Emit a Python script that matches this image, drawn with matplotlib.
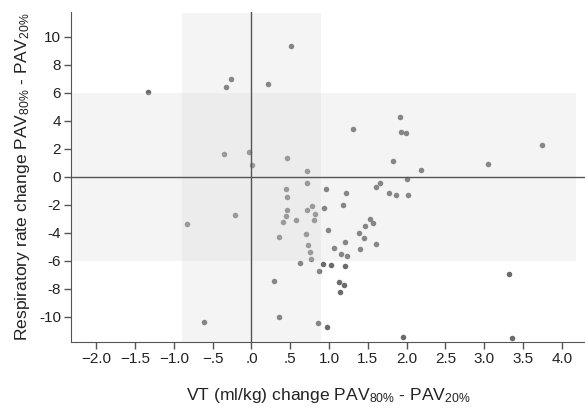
import numpy as np
import matplotlib
matplotlib.use("Agg")
import matplotlib.pyplot as plt

# VT change vs respiratory rate change (PAV 80% - PAV 20%)
vt_change = [
    -1.33, -0.33, -0.27, 0.215, 0.51, -0.36, -0.03, 0.005, 0.46, 0.71,
    1.91, 1.31, 1.93, 1.99, 3.75, 1.82, 3.05, 2.18, 2.00, 0.71,
    0.44, 0.96, 1.22, 0.46, 0.78, 0.72, 0.456, 0.93, 1.18, 0.825,
    -0.21, 0.45, 0.576, 0.81, 0.40, -0.83, 0.70, 0.36, 0.99, 1.20,
    1.066, 0.727, 0.76, 1.15, 1.23, 0.765, 0.62, 0.92, 1.03, 1.20,
    0.87, 0.29, 1.126, 1.19, 1.14, 0.35, -0.61, 0.86, 0.97, 1.61,
    1.66, 1.77, 1.86, 2.02, 1.53, 1.57, 1.465, 1.38, 1.45, 1.60,
    1.40, 3.32, 1.95, 3.36,
]
rr_change = [
    6.05, 6.39, 7.00, 6.60, 9.31, 1.60, 1.79, 0.84, 1.31, 0.41,
    4.29, 3.41, 3.21, 3.10, 2.26, 1.12, 0.91, 0.48, -0.18, -0.48,
    -0.90, -0.88, -1.14, -1.43, -2.07, -2.38, -2.38, -2.21, -2.02, -2.64,
    -2.74, -2.81, -3.07, -3.12, -3.26, -3.40, -4.12, -4.29, -3.81, -4.66,
    -5.07, -4.90, -5.36, -5.52, -5.66, -5.88, -6.19, -6.24, -6.31, -6.36,
    -6.76, -7.45, -7.50, -7.71, -8.21, -10.02, -10.38, -10.43, -10.71, -0.71,
    -0.48, -1.14, -1.31, -1.33, -3.05, -3.33, -3.50, -4.02, -4.38, -4.78,
    -5.19, -6.93, -11.47, -11.52,
]

x_ticks = [-2.0, -1.5, -1.0, -0.5, 0.0, 0.5, 1.0, 1.5, 2.0, 2.5, 3.0, 3.5, 4.0]
x_tick_labels = ["\u22122.0", "\u22121.5", "\u22121.0", "\u2212.5", ".0", ".5",
                 "1.0", "1.5", "2.0", "2.5", "3.0", "3.5", "4.0"]
y_ticks = [-10, -8, -6, -4, -2, 0, 2, 4, 6, 8, 10]
y_tick_labels = ["-10", "-8", "-6", "-4", "-2", "0", "2", "4", "6", "8", "10"]

# reference regions
vt_band = (-0.9, 0.9)
rr_band = (-6, 6)

plt.rcParams["font.family"] = ["Liberation Sans", "DejaVu Sans"]
plt.rcParams["mathtext.default"] = "regular"

fig = plt.figure(figsize=(5.85, 4.12), dpi=100)
ax = fig.add_axes([0.121, 0.169, 0.879, 0.803])

xlim = (-2.33, 4.30)
ylim = (-11.83, 11.8)

ax.scatter(vt_change, rr_change, s=16, color="#6b6b6b", linewidths=0, zorder=2)

# translucent bands drawn over the points (lightens the points underneath)
band_kw = dict(color="#d6d6d6", alpha=0.26, linewidth=0, zorder=3)
ax.fill_between([xlim[0], 4.19], rr_band[0], rr_band[1], **band_kw)
ax.fill_betweenx([ylim[0], 11.71], vt_band[0], vt_band[1], **band_kw)

ax.axhline(0, color="#555555", linewidth=1.0, zorder=4)
ax.axvline(0, color="#555555", linewidth=1.0, zorder=4)

ax.set_xlim(*xlim)
ax.set_ylim(*ylim)

ax.set_xticks(x_ticks)
ax.set_xticklabels(x_tick_labels)
ax.set_yticks(y_ticks)
ax.set_yticklabels(y_tick_labels)
ax.tick_params(axis="both", direction="out", length=5, width=1, color="#555555",
               labelsize=11, labelcolor="#222222", pad=2)

for side in ["top", "right"]:
    ax.spines[side].set_visible(False)
for side in ["left", "bottom"]:
    ax.spines[side].set_color("#555555")
    ax.spines[side].set_zorder(5)

ax.set_xlabel("VT (ml/kg) change PAV$_{80\\%}$ - PAV$_{20\\%}$",
              fontsize=12.6, color="#222222", labelpad=14)
ax.set_ylabel("Respiratory rate change PAV$_{80\\%}$ - PAV$_{20\\%}$",
              fontsize=12.6, color="#222222", labelpad=5)

fig.savefig("out.png", dpi=100)
